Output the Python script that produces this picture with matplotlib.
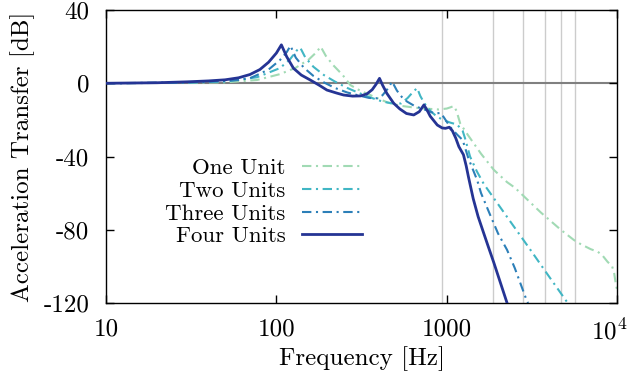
import matplotlib
matplotlib.use("Agg")
import matplotlib.pyplot as plt
from matplotlib.transforms import ScaledTranslation

plt.rcParams["font.family"] = ["cmr10", "DejaVu Serif"]
plt.rcParams["mathtext.fontset"] = "cm"
plt.rcParams["axes.unicode_minus"] = False
plt.rcParams["axes.formatter.use_mathtext"] = True

# frequency response, (Hz, dB)
f_one = [10, 50, 77, 105, 130, 155, 172, 182, 195, 215, 245, 272, 310, 389, 450, 535, 650, 800,
         900, 1000, 1060, 1100, 1140, 1200, 1330, 1590, 1890, 2260, 2510, 3560, 4670, 5560, 6100,
         7000, 7700, 8200, 8770, 9350, 9620, 9800, 10000]
db_one = [0, 0.5, 1.8, 5, 8.5, 13, 17, 20, 15, 10, 4.5, -1, -4, -8, -10.5, -12.3, -13.3, -14,
          -14.3, -13.8, -13, -12.4, -15, -22, -28.2, -38.5, -47.3, -54, -57, -70.5, -80, -85.5, -87.8,
          -90.6, -92, -94, -97.4, -100, -104, -109, -113]

f_two = [10, 30, 50, 77, 105, 120, 132, 138, 148, 165, 190, 220, 260, 300, 350, 420, 480, 540,
         590, 630, 670, 700, 740, 800, 870, 950, 1050, 1150, 1240, 1280, 1370, 1500, 1650, 2260,
         3100, 3880, 5130]
db_two = [0, 0.3, 1, 3.3, 8.3, 13, 18, 19.5, 14, 9, 4.5, 1, -2.5, -5, -7.5, -10, -11, -11,
          -8, -5, -2.6, -7, -11, -15, -18, -20, -21.5, -22.5, -26, -30, -40, -48, -55, -73,
          -91, -104, -120]

f_three = [10, 30, 50, 60, 70, 77, 90, 105, 115, 121, 130, 145, 165, 190, 220, 260, 300, 350,
           390, 420, 450, 478, 510, 545, 585, 650, 750, 850, 920, 960, 1050, 1150, 1240, 1340,
           1510, 1590, 1800, 2000, 2260, 2510, 2930, 3000]
db_three = [0, 0.5, 1.2, 1.8, 2.8, 4.5, 7.5, 12.7, 17, 20.5, 14, 8.5, 4, 0.5, -2.5, -5, -6.5, -8,
            -8.2, -6.5, -3, 0.9, -4, -7.5, -10, -12.5, -14.5, -16.5, -16.2, -18.5, -24, -28, -31, -41,
            -53, -60, -72, -82, -91, -101, -118, -120]

f_four = [10, 20, 30, 40, 50, 60, 70, 80, 90, 100, 107, 115, 126, 140, 158, 178, 198, 225, 248,
          280, 312, 340, 365, 385, 403, 420, 445, 488, 530, 580, 640, 690, 735, 770, 800, 880, 940,
          983, 1036, 1080, 1130, 1178, 1253, 1300, 1340, 1430, 1528, 1650, 1750, 1890, 2050, 2260]
db_four = [0, 0.3, 0.8, 1.3, 1.9, 3.0, 4.8, 7.5, 11.5, 16.5, 21, 14.5, 8.2, 4.5, 1.8, -1, -3.7, -5.3, -6.4,
           -7, -6.9, -5.8, -3.5, -0.5, 2.7, -1, -5.5, -10.9, -14, -16.5, -17.3, -15.5, -11.8, -15, -18, -22.8, -24.4,
           -24.6, -24, -26, -30, -34.6, -39, -45, -51, -63, -72.8, -82, -89, -98, -108, -120]

labels = ["One Unit", "Two Units", "Three Units", "Four Units"]
colors = ["#a1dab4", "#41b6c4", "#2c7fb8", "#253494"]
harmonics = [938, 1876, 2814, 3752, 4690, 5628]

x_ticks = [10, 100, 1000, 10000]
x_labels = ["10", "100", "1000", r"$10^4$"]
y_ticks = [-120, -80, -40, 0, 40]

FS = 18
LEG_FS = 16.5


def main() -> None:
    fig = plt.figure(figsize=(6.31, 3.79), dpi=100)
    ax = fig.add_axes([0.168, 0.2005, 0.81, 0.773])

    for h in harmonics:
        ax.axvline(h, color="#cccccc", lw=1.0, zorder=1)
    ax.axhline(0, color="#808080", lw=1.5, zorder=1)

    series = [(f_one, db_one), (f_two, db_two), (f_three, db_three)]
    for (f, db), lab, c in zip(series, labels[:3], colors[:3]):
        ax.plot(f, db, color=c, lw=1.5, dashes=(4.5, 2.2, 1, 2.2), label=lab, zorder=2)
    ax.plot(f_four, db_four, color=colors[3], lw=2.0, label=labels[3], zorder=3)

    ax.set_xscale("log")
    ax.set_xlim(10, 10000)
    ax.set_ylim(-120, 40)
    ax.set_xticks(x_ticks, x_labels)
    ax.minorticks_off()
    ax.set_yticks(y_ticks, [str(v) for v in y_ticks])
    ax.tick_params(direction="in", length=6, width=1, labelsize=FS, top=True, right=True)
    ax.tick_params(axis="x", pad=11)
    ax.tick_params(axis="y", pad=12)
    for s in ax.spines.values():
        s.set_linewidth(1.0)
    ax.set_xlabel("Frequency [Hz]", fontsize=FS, labelpad=2)
    ax.set_ylabel("Acceleration Transfer [dB]", fontsize=FS, labelpad=6)

    # the last x label sits at the figure edge; nudge it in a little
    last = ax.get_xticklabels()[-1]
    last.set_transform(last.get_transform() + ScaledTranslation(-8 / 100, 0, fig.dpi_scale_trans))

    ax.legend(loc="upper right", bbox_to_anchor=(0.501, 0.495), frameon=False, markerfirst=False,
              fontsize=LEG_FS, handlelength=2.6, handletextpad=0.75, labelspacing=0.12,
              borderpad=0, borderaxespad=0)

    fig.savefig("out.png", dpi=100)
    plt.close(fig)


if __name__ == "__main__":
    main()
